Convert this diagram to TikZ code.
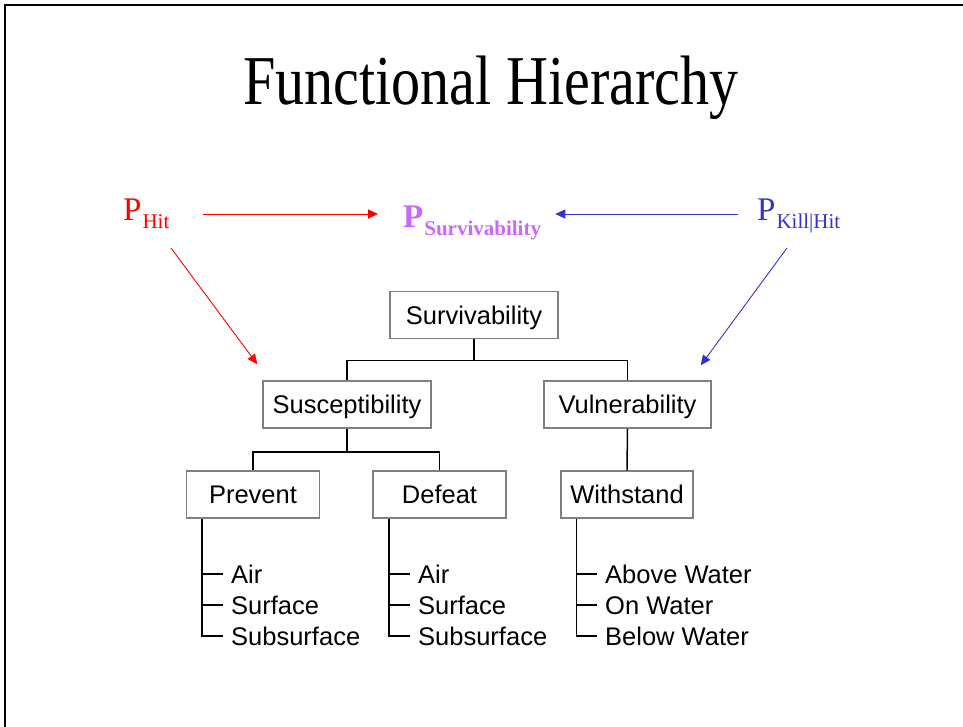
\documentclass[tikz,border=0pt]{standalone}
\usepackage{fontspec}
\setmainfont{Liberation Serif}
\newfontfamily\titlefont[FakeStretch=0.83]{Liberation Serif}
\newfontfamily\boxfont{Liberation Sans}
\usetikzlibrary{arrows.meta,calc}
\definecolor{hitred}{RGB}{255,0,0}
\definecolor{survpurple}{RGB}{204,102,255}
\definecolor{killblue}{RGB}{51,51,204}
\definecolor{boxgray}{RGB}{128,128,128}
\newcommand\subtext[1]{\kern1pt\raisebox{-8pt}{\fontsize{21}{21}\selectfont #1}}

\begin{document}
\begin{tikzpicture}[x=1pt,y=-1pt,
  box/.style={draw=boxgray, line width=1.5pt, minimum height=47pt, inner sep=0pt,
    text height=18.3pt, text depth=0pt, font=\boxfont\fontsize{25.5}{25.5}\selectfont},
  tree/.style={draw=black, line width=1.5pt},
  item/.style={anchor=west, inner sep=0pt, text height=18.3pt, text depth=0pt,
    font=\boxfont\fontsize{25.5}{25.5}\selectfont},
  prob/.style={anchor=base west, inner sep=0pt, font=\fontsize{33}{33}\selectfont},
  flow/.style={line width=0.9pt, -{Triangle[length=10pt,width=9pt]}},
]
\useasboundingbox (0,0) rectangle (963,726);
% slide frame
\draw[line width=1.5pt] (5,740) -- (5,5) -- (980,5);

% title
\node[anchor=base, inner sep=0pt, font=\titlefont\fontsize{70}{70}\selectfont] (title) at (491,104) {Functional Hierarchy};

% probabilities
\node[prob, text=hitred] (phit) at (123,220) {P\subtext{Hit}};
\node[prob, text=survpurple, font=\fontsize{33}{33}\selectfont\bfseries] (psurv) at (403,227) {P\subtext{Survivability}};
\node[prob, text=killblue] (pkill) at (757,220) {P\subtext{Kill|Hit}};

% hierarchy boxes
\node[box, minimum width=168pt] (surv) at (474,315) {Survivability};
\node[box, minimum width=168pt] (susc) at (347,404.5) {Susceptibility};
\node[box, minimum width=167pt] (vuln) at (627.5,404.5) {Vulnerability};
\node[box, minimum width=133pt] (prev) at (253,494.5) {Prevent};
\node[box, minimum width=133pt] (defe) at (439.5,494.5) {Defeat};
\node[box, minimum width=132pt] (with) at (627,494.5) {Withstand};

% tree connectors
\draw[tree] (surv.south) -- ++(0,21) -| (susc.north);
\draw[tree] (surv.south) -- ++(0,21) -| (vuln.north);
\draw[tree] (susc.south) -- ++(0,23) -| (prev.north);
\draw[tree] (susc.south) -- ++(0,23) -| (defe.north);
\draw[tree] (vuln.south) -- (with.north);

% sub-item lists
\node[item] (pa) at (231,574) {Air};
\node[item] (ps) at (231,605) {Surface};
\node[item] (pu) at (231,636) {Subsurface};
\node[item] (da) at (418,574) {Air};
\node[item] (ds) at (418,605) {Surface};
\node[item] (du) at (418,636) {Subsurface};
\node[item] (wa) at (605,574) {Above Water};
\node[item] (ws) at (605,605) {On Water};
\node[item] (wu) at (605,636) {Below Water};

\coordinate (pv) at ([xshift=16pt]prev.south west);
\coordinate (dv) at ([xshift=16.5pt]defe.south west);
\coordinate (wv) at ([xshift=16pt]with.south west);
\foreach \v/\a/\s/\u in {pv/pa/ps/pu, dv/da/ds/du, wv/wa/ws/wu}{
  \draw[tree] (\v) |- ([xshift=-8pt]\u.west);
  \draw[tree] (\v |- \a.west) -- ([xshift=-8pt]\a.west);
  \draw[tree] (\v |- \s.west) -- ([xshift=-8pt]\s.west);
}

% influence arrows
\draw[flow, hitred] ($(phit.base west)+(80,-6)$) -- ($(phit.base west -| psurv.west)+(-25,-6)$);
\draw[flow, killblue] ($(pkill.base west)+(-19,-6)$) -- ($(pkill.base west -| psurv.east)+(14,-6)$);
\draw[flow, hitred] ($(phit.base west)+(48,28)$) -- ($(susc.north west)+(-5,-16)$);
\draw[flow, killblue] ($(pkill.base west)+(30,28)$) -- ($(vuln.north east)+(-11,-15)$);
\end{tikzpicture}
\end{document}
